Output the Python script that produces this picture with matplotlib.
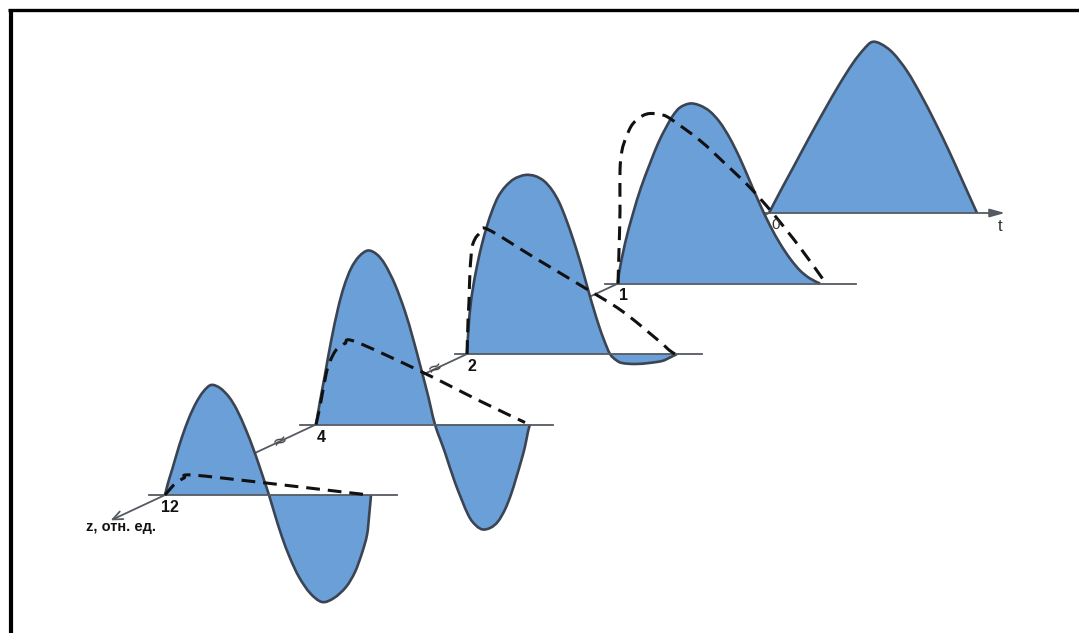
import matplotlib.pyplot as plt
from matplotlib.path import Path
from matplotlib.patches import PathPatch

plt.rcParams['font.family'] = ['Liberation Sans', 'DejaVu Sans']

# distance labels along the z axis, nearest pulse first
z_labels = ['0', '1', '2', '4', '12']

# pulse outlines: t to the right, amplitude upward, relative to each origin
solid_t = [
    [0, 12, 25, 40, 55, 70, 84, 95, 103, 112, 124, 138, 152, 166, 180, 194, 208],
    [0, 1, 7, 15, 23, 32, 40, 48, 55, 62, 72, 82, 92, 102, 112, 122, 132, 142,
     152, 162, 172, 182, 192, 202],
    [0, 2, 5, 10, 15, 20, 25, 31, 38, 47, 58, 68, 77, 85, 92, 99, 106, 112,
     117, 122, 127, 132, 137, 143, 149, 155, 168, 182, 195, 202, 210],
    [0, 4, 9, 15, 22, 28, 35, 43, 52, 61, 69, 79, 89, 97, 105, 112, 119, 129,
     139, 152, 160, 167, 175, 182, 189, 195, 200, 205, 209, 212, 214],
    [0, 3, 7, 12, 17, 24, 31, 38, 46, 55, 64, 72, 81, 88, 94, 99, 104, 110,
     117, 125, 134, 145, 157, 169, 181, 190, 197, 202, 204, 206],
]
solid_u = [
    [0, 23, 47, 75, 102, 128, 150, 164, 171, 169, 160, 142, 118, 91, 62, 31, 0],
    [0, 10, 40, 70, 96, 120, 140, 156, 168, 176, 180, 178, 172, 161, 145, 125,
     102, 79, 58, 40, 25, 13, 5, 0],
    [0, 33, 60, 88, 110, 128, 143, 157, 167, 175, 179, 178, 173, 164, 152, 135,
     115, 96, 79, 61, 44, 28, 14, 0, -6, -9, -10, -9, -7, -4, 0],
    [0, 23, 50, 83, 116, 138, 156, 168, 174, 170, 160, 140, 113, 86, 56, 29, 0,
     -28, -58, -90, -101, -105, -103, -97, -85, -70, -54, -37, -22, -7, 0],
    [0, 12, 25, 42, 58, 77, 92, 103, 110, 107, 98, 85, 65, 47, 30, 15, 0, -20,
     -42, -63, -82, -98, -107, -103, -92, -77, -58, -40, -22, 0],
]

# dashed curves (no dashed curve at z = 0)
dash_t = [
    None,
    [0, 1, 2, 2, 4, 8, 13, 18, 25, 32, 42, 52, 82, 107, 132, 155, 182, 208],
    [0, 1, 2, 3, 5, 8, 12, 20, 68, 118, 155, 192, 202, 208],
    [0, 4, 10, 14, 19, 24, 29, 39, 105, 165, 209],
    [0, 6, 11, 19, 27, 101, 161, 204],
]
dash_u = [
    None,
    [0, 33, 73, 113, 133, 146, 157, 163, 168, 170, 169, 165, 143, 120, 96, 70,
     36, 0],
    [0, 33, 53, 83, 106, 115, 120, 125, 96, 66, 43, 13, 4, 0],
    [0, 18, 50, 63, 73, 78, 81, 83, 53, 23, 2],
    [0, 7, 12, 17, 20, 12, 5, 0],
]

# horizontal extent of each time axis relative to its origin
base_left = [-9, -13, -12, -16, -16]
base_right = [236, 238, 235, 237, 232]

fill_c = '#6b9fd8'
edge_c = '#3b4452'
axis_c = '#555a62'


def smooth_path(xs, ys, close=False):
    # cubic Bezier segments through every point (Catmull-Rom tangents)
    pts = list(zip(xs, ys))
    n = len(pts)
    verts = [pts[0]]
    codes = [Path.MOVETO]
    for k in range(n - 1):
        p0 = pts[max(k - 1, 0)]
        p1 = pts[k]
        p2 = pts[k + 1]
        p3 = pts[min(k + 2, n - 1)]
        c1 = (p1[0] + (p2[0] - p0[0]) / 6, p1[1] + (p2[1] - p0[1]) / 6)
        c2 = (p2[0] - (p3[0] - p1[0]) / 6, p2[1] - (p3[1] - p1[1]) / 6)
        verts += [c1, c2, p2]
        codes += [Path.CURVE4] * 3
    if close:
        verts.append(pts[0])
        codes.append(Path.CLOSEPOLY)
    return Path(verts, codes)


fig = plt.figure(figsize=(10.79, 6.33), dpi=100)
ax = fig.add_axes([0, 0, 1, 1])
ax.set_xlim(0, 1079)
ax.set_ylim(633, 0)
ax.axis('off')

# frame
ax.plot([8, 1079], [10, 10], color='black', lw=2.4, solid_capstyle='butt')
ax.plot([11, 11], [10, 633], color='black', lw=3.0, solid_capstyle='butt')

# origins slide down-left along the z axis
ox0, oy0 = 769, 213
step_x, step_y = -151, 70.5
origins = [(ox0 + i * step_x, oy0 + i * step_y) for i in range(len(z_labels))]

# z axis with arrow and scale breaks
tip = (origins[-1][0] + 0.36 * step_x, origins[-1][1] + 0.36 * step_y)
ax.annotate('', xy=tip, xytext=origins[0],
            arrowprops=dict(arrowstyle='->,head_length=0.7,head_width=0.3',
                            color=axis_c, lw=1.3, shrinkA=0, shrinkB=0),
            zorder=1)
for s in (2.21, 3.24):
    ax.text(origins[0][0] + s * step_x, origins[0][1] + s * step_y, '≈',
            fontsize=13, family='DejaVu Sans', color='#444444', rotation=25,
            ha='center', va='center', zorder=1)

for i, (ox, oy) in enumerate(origins):
    zo = 2 + i * 3
    xs = [ox + t for t in solid_t[i]]
    ys = [oy - u for u in solid_u[i]]
    ax.add_patch(PathPatch(smooth_path(xs, ys, close=True), facecolor=fill_c,
                           lw=0, zorder=zo))
    ax.add_patch(PathPatch(smooth_path(xs, ys), facecolor='none',
                           edgecolor=edge_c, lw=1.9, joinstyle='round',
                           zorder=zo + 1))
    if i == 0:
        ax.annotate('', xy=(ox + base_right[i], oy), xytext=(ox + base_left[i], oy),
                    arrowprops=dict(arrowstyle='-|>,head_length=0.9,head_width=0.25',
                                    color=axis_c, lw=1.3, shrinkA=0, shrinkB=0),
                    zorder=zo + 1)
    else:
        ax.plot([ox + base_left[i], ox + base_right[i]], [oy, oy],
                color=axis_c, lw=1.3, zorder=zo + 1)
    if dash_t[i] is not None:
        dx = [ox + t for t in dash_t[i]]
        dy = [oy - u for u in dash_u[i]]
        ax.add_patch(PathPatch(smooth_path(dx, dy), facecolor='none',
                               edgecolor='#111111', lw=2.2,
                               linestyle=(0, (4.5, 2.6)), zorder=zo + 2))
    if i == 0:
        ax.text(ox + 2, oy + 5, z_labels[i], fontsize=11, color='#333333',
                ha='left', va='top', zorder=20)
    else:
        ax.text(ox + 5, oy + 5, z_labels[i], fontsize=11.5, fontweight='bold',
                color='#111111', ha='center', va='top', zorder=20)

ax.text(origins[0][0] + 229, origins[0][1] + 6, 't', fontsize=12,
        color='#333333', ha='left', va='top', zorder=20)
ax.text(86, 527, 'z, отн. ед.', fontsize=10.5, fontweight='bold',
        color='#111111', ha='left', va='center', zorder=20)

fig.savefig('out.png', dpi=100)
